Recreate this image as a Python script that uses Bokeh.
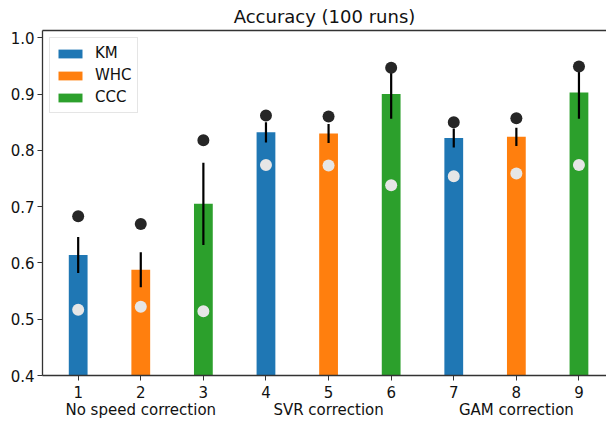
from bokeh.plotting import figure
from bokeh.models import FixedTicker, LinearAxis, NumeralTickFormatter, Range1d
from bokeh.embed import file_html
from bokeh.resources import INLINE

# ---- data ----
methods = ["KM", "WHC", "CCC"]
colors = ["#1f77b4", "#ff7f0e", "#2ca02c"]
positions = [1, 2, 3, 4, 5, 6, 7, 8, 9]
bar_method = ["KM", "WHC", "CCC", "KM", "WHC", "CCC", "KM", "WHC", "CCC"]
mean_acc = [0.614, 0.588, 0.705, 0.832, 0.830, 0.900, 0.822, 0.824, 0.903]
err_acc = [0.032, 0.031, 0.073, 0.018, 0.017, 0.044, 0.017, 0.016, 0.047]
max_acc = [0.683, 0.669, 0.818, 0.862, 0.860, 0.947, 0.850, 0.857, 0.949]
min_acc = [0.517, 0.522, 0.514, 0.774, 0.773, 0.738, 0.754, 0.759, 0.774]
group_labels = ["No speed correction", "SVR correction", "GAM correction"]
group_members = [[1, 2, 3], [4, 5, 6], [7, 8, 9]]
y_ticks = [0.4, 0.5, 0.6, 0.7, 0.8, 0.9, 1.0]

FONT = "DejaVu Sans"

p = figure(width=606, height=421, output_backend="svg", toolbar_location=None,
           x_range=Range1d(0.43, 9.44), y_range=Range1d(0.4, 1.013),
           min_border_left=42, min_border_right=0, min_border_top=0, min_border_bottom=0)

p.title.text = "Accuracy (100 runs)"
p.title.align = "center"
p.title.text_font = FONT
p.title.text_font_size = "18px"
p.title.text_font_style = "normal"
p.title.text_color = "#111111"
p.title.standoff = 7

p.outline_line_color = None
p.xgrid.visible = False
p.ygrid.visible = False

# bars
for m, c in zip(methods, colors):
    xs = [x for x, bm in zip(positions, bar_method) if bm == m]
    ys = [y for y, bm in zip(mean_acc, bar_method) if bm == m]
    p.vbar(x=xs, top=ys, bottom=0.4, width=0.3, fill_color=c, line_color=None,
           legend_label=m)

# error bars
p.segment(x0=positions, x1=positions,
          y0=[m - e for m, e in zip(mean_acc, err_acc)],
          y1=[m + e for m, e in zip(mean_acc, err_acc)],
          line_color="black", line_width=2.2)

# max / min dots
p.scatter(x=positions, y=max_acc, size=12, fill_color="#262626", line_color=None)
p.scatter(x=positions, y=min_acc, size=12, fill_color="#e6e6e6", line_color=None)

# axes
ax_y = p.yaxis[0]
ax_y.ticker = FixedTicker(ticks=y_ticks)
ax_y.formatter = NumeralTickFormatter(format="0.0")
ax_y.minor_tick_line_color = None
ax_y.major_tick_in = 0
ax_y.major_tick_out = 5
ax_y.axis_line_color = "#333333"
ax_y.axis_line_width = 1.3
ax_y.major_tick_line_color = "#333333"
ax_y.major_label_text_font = FONT
ax_y.major_label_text_font_size = "15px"
ax_y.major_label_text_color = "#111111"
ax_y.major_label_standoff = 3

# x tick labels: number, and the group name under the middle bar of each group
overrides = {}
for g, lbl in zip(group_members, group_labels):
    for x in g:
        overrides[x] = str(x)
    mid = g[len(g) // 2]
    overrides[mid] = f"{mid}\n{lbl}"

ax_x = p.xaxis[0]
ax_x.ticker = FixedTicker(ticks=positions)
ax_x.major_label_overrides = overrides
ax_x.minor_tick_line_color = None
ax_x.major_tick_in = 0
ax_x.major_tick_out = 5
ax_x.axis_line_color = "#333333"
ax_x.axis_line_width = 1.3
ax_x.major_tick_line_color = "#333333"
ax_x.major_label_text_font = FONT
ax_x.major_label_text_font_size = "15px"
ax_x.major_label_text_color = "#111111"
ax_x.major_label_text_line_height = 0.95
ax_x.major_label_standoff = 3

ax_top = LinearAxis(ticker=FixedTicker(ticks=[]))
ax_top.axis_line_color = "#333333"
ax_top.axis_line_width = 1.3
ax_top.major_tick_line_color = None
ax_top.minor_tick_line_color = None
ax_top.major_tick_in = 0
ax_top.major_tick_out = 0
ax_top.major_label_standoff = 0
p.add_layout(ax_top, "above")

# legend
lg = p.legend[0]
lg.location = "top_left"
lg.margin = 7
lg.padding = 5
lg.spacing = 2
lg.glyph_width = 30
lg.glyph_height = 11
lg.label_height = 20
lg.label_standoff = 10
lg.label_text_font = FONT
lg.label_text_font_size = "15px"
lg.label_text_color = "#111111"
lg.border_line_color = "#cccccc"
lg.border_line_width = 1
lg.background_fill_alpha = 0.8

open("out.html", "w").write(file_html(p, INLINE))
